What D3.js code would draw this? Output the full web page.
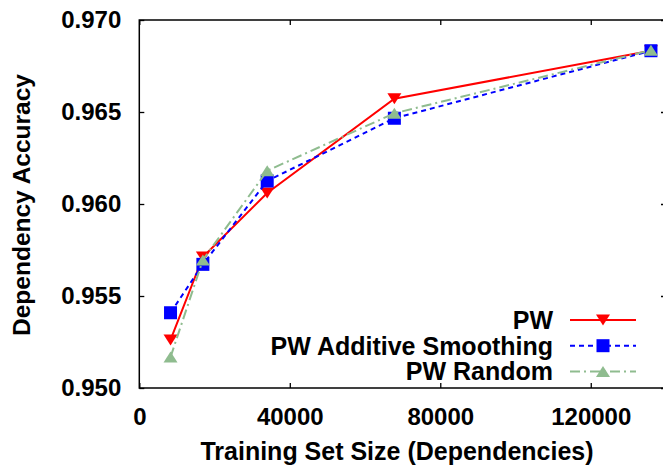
<!DOCTYPE html>
<html>
<head>
<meta charset="utf-8">
<script src="https://cdn.jsdelivr.net/npm/d3@7"></script>
<style>
  body { margin: 0; background: #fff; }
  text { font-family: "Liberation Sans", Arial, Helvetica, sans-serif; font-weight: bold; fill: #000; }
</style>
</head>
<body>
<div id="chart"></div>
<script>
// data
const sizes = [8300, 16900, 34000, 67800, 136000];
const pwAcc = [0.95261, 0.95712, 0.96060, 0.96572, 0.96833];
const pwSmoothAcc = [0.95409, 0.95672, 0.96125, 0.96466, 0.96833];
const pwRandomAcc = [0.95168, 0.95696, 0.96181, 0.96493, 0.96836];
const seriesNames = ["PW", "PW Additive Smoothing", "PW Random"];
const xTicks = [0, 40000, 80000, 120000];
const yTicks = [0.950, 0.955, 0.960, 0.965, 0.970];

const W = 663, H = 466;
const margin = { left: 139.3, right: 666, top: 20, bottom: 388 };

const svg = d3.select("#chart")
    .append("svg")
    .attr("width", W)
    .attr("height", H);

const x = d3.scaleLinear().domain([0, 140000]).range([margin.left, margin.right]);
const y = d3.scaleLinear().domain([0.950, 0.970]).range([margin.bottom, margin.top]);

// frame
svg.append("rect")
    .attr("x", margin.left).attr("y", margin.top)
    .attr("width", margin.right - margin.left).attr("height", margin.bottom - margin.top)
    .attr("fill", "none").attr("stroke", "#000").attr("stroke-width", 1.5);

// axes (ticks point inward like gnuplot)
svg.append("g")
    .attr("transform", `translate(0,${margin.bottom})`)
    .call(d3.axisBottom(x).tickValues(xTicks).tickSize(-5).tickPadding(20).tickFormat(d3.format("d")));
svg.append("g")
    .attr("transform", `translate(${margin.left},0)`)
    .call(d3.axisLeft(y).tickValues(yTicks).tickSize(-5).tickPadding(18).tickFormat(d3.format(".3f")));
// mirrored ticks
svg.append("g")
    .attr("transform", `translate(0,${margin.top})`)
    .call(d3.axisTop(x).tickValues(xTicks).tickSize(-5).tickFormat(""));
svg.append("g")
    .attr("transform", `translate(${margin.right},0)`)
    .call(d3.axisRight(y).tickValues(yTicks).tickSize(-5).tickFormat(""));

svg.selectAll(".domain").remove();
svg.selectAll(".tick line").attr("stroke", "#000").attr("stroke-width", 1.3);
svg.selectAll(".tick text").style("font-size", "24px").attr("fill", "#000");

// axis titles
svg.append("text")
    .attr("x", 397).attr("y", 460)
    .attr("text-anchor", "middle")
    .style("font-size", "25px")
    .text("Training Set Size (Dependencies)");
svg.append("text")
    .attr("transform", "translate(30,205) rotate(-90)")
    .attr("text-anchor", "middle")
    .style("font-size", "24.5px")
    .text("Dependency Accuracy");

const series = [
    { name: seriesNames[0], values: pwAcc, color: "#ff0000", dash: null, symbol: "down" },
    { name: seriesNames[1], values: pwSmoothAcc, color: "#0000ff", dash: "5,4", symbol: "square" },
    { name: seriesNames[2], values: pwRandomAcc, color: "#8fbc8f", dash: "10,4,2,4", symbol: "up" }
];

function marker(g, s, cx, cy) {
    if (s.symbol === "square") {
        g.append("rect")
            .attr("x", cx - 6.5).attr("y", cy - 6.5)
            .attr("width", 13).attr("height", 13)
            .attr("fill", s.color);
    } else {
        const h = 11, w = 7;
        const pts = s.symbol === "down"
            ? [[cx - w, cy - h / 2], [cx + w, cy - h / 2], [cx, cy + h / 2]]
            : [[cx - w, cy + h / 2], [cx + w, cy + h / 2], [cx, cy - h / 2]];
        g.append("polygon")
            .attr("points", pts.map(p => p.join(",")).join(" "))
            .attr("fill", s.color);
    }
}

const line = d3.line()
    .x((d, i) => x(sizes[i]))
    .y(d => y(d));

series.forEach(s => {
    const g = svg.append("g");
    g.append("path")
        .datum(s.values)
        .attr("d", line)
        .attr("fill", "none")
        .attr("stroke", s.color)
        .attr("stroke-width", 2)
        .attr("stroke-dasharray", s.dash);
    s.values.forEach((v, i) => marker(g, s, x(sizes[i]), y(v)));
});

// legend
const legend = svg.append("g");
series.forEach((s, i) => {
    const ry = 320 + i * 25.7;
    legend.append("text")
        .attr("x", 553).attr("y", ry)
        .attr("dy", "0.36em")
        .attr("text-anchor", "end")
        .style("font-size", "25px")
        .text(s.name);
    legend.append("line")
        .attr("x1", 570).attr("x2", 636)
        .attr("y1", ry).attr("y2", ry)
        .attr("stroke", s.color)
        .attr("stroke-width", 2)
        .attr("stroke-dasharray", s.dash);
    marker(legend, s, 603, ry);
});
</script>
</body>
</html>
